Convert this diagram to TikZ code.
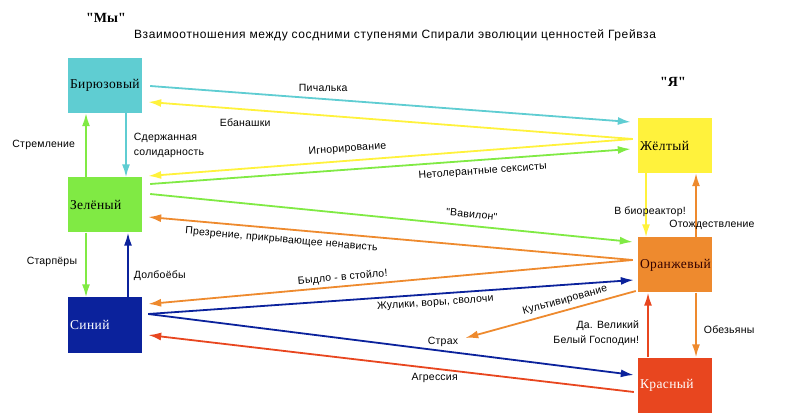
\documentclass[tikz,border=0pt]{standalone}
\usepackage{fontspec}
\setmainfont{Liberation Serif}
\newfontfamily\labelfont{Liberation Sans}[LetterSpace=2]
\newfontfamily\titlefont{Liberation Sans}[LetterSpace=5]
\newfontfamily\boxfont{Liberation Serif}[LetterSpace=3]
\newfontfamily\sidefont{Liberation Serif}
\usetikzlibrary{arrows.meta,calc}
\tikzset{>={Latex[length=13pt,width=8pt]}}
\definecolor{turq}{HTML}{5FCDD2}
\definecolor{grn}{HTML}{80EA44}
\definecolor{blu}{HTML}{0B229C}
\definecolor{yel}{HTML}{FFF23C}
\definecolor{orng}{HTML}{EE8A2E}
\definecolor{rd}{HTML}{E8461F}
\tikzset{
  level/.style={minimum width=74pt,minimum height=55pt,inner sep=2pt,
                text width=70pt,align=left,font=\boxfont\fontsize{13.5}{14}\selectfont},
  lbl/.style={font=\labelfont\fontsize{10.5}{15.5}\selectfont,inner sep=0pt,text=black},
  link/.style={->,line width=1.8pt},
  side/.style={font=\sidefont\bfseries\fontsize{14}{14}\selectfont}
}

\begin{document}
\begin{tikzpicture}[x=1pt,y=1pt]
  \useasboundingbox (0,0) rectangle (800,-419);
  % titles
  \node[side] (we) at (106,-18) {"Мы"};
  \node[side] (me) at (673,-82) {"Я"};
  \node[font=\titlefont\fontsize{12}{12}\selectfont,inner sep=0pt] (title) at (395,-35) {Взаимоотношения между сосдними ступенями Спирали эволюции ценностей Грейвза};
  % levels
  \node[level,fill=turq] (bir) at (105,-85.5) {Бирюзовый};
  \node[level,fill=grn] (zel) at (105,-205) {Зелёный};
  \node[level,fill=blu,text=white] (sin) at (105,-325) {Синий};
  \node[level,fill=yel] (zhel) at (675,-145.5) {Жёлтый};
  \node[level,fill=orng,text=black!80!red] (oran) at (675,-265) {Оранжевый};
  \node[level,fill=rd,text=white] (kras) at (675,-385) {Красный};
  \node[lbl] (strakh) at (443,-342) {Страх};
  % "we" column
  \draw[link,grn] ($(zel.north)+(-19,0)$) -- node[lbl,left=10pt] (strem) {Стремление} ($(bir.south)+(-19,0)$);
  \draw[link,turq] ($(bir.south)+(21,0)$) -- node[lbl,right=7pt,align=left] (sderzh) {Сдержанная\\солидарность} ($(zel.north)+(21,0)$);
  \draw[link,grn] ($(zel.south)+(-19,0)$) -- node[lbl,pos=0.45,left=8pt] (starp) {Старпёры} ($(sin.north)+(-19,0)$);
  \draw[link,blu] ($(sin.north)+(23,0)$) -- node[lbl,pos=0.33,right=5pt] (dolb) {Долбоёбы} ($(zel.south)+(23,0)$);
  % "I" column
  \draw[link,yel] ($(zhel.south)+(-29,0)$) -- node[lbl,pos=0.6,xshift=4pt] (bio) {В биореактор!} ($(oran.north)+(-29,0)$);
  \draw[link,orng] ($(oran.north)+(21,0)$) -- node[lbl,pos=0.19,xshift=16pt] (otozh) {Отождествление} ($(zhel.south)+(21,0)$);
  \draw[link,orng] ($(oran.south)+(21,0)$) -- node[lbl,pos=0.58,right=7pt] (obez) {Обезьяны} ($(kras.north)+(21,0)$);
  \draw[link,rd] ($(kras.north)+(-27,0)$) -- node[lbl,pos=0.375,left=8pt,align=right] (gospod) {Да. Великий\\Белый Господин!} ($(oran.south)+(-27,0)$);
  % across
  \draw[link,turq] ($(bir.east)+(8,-0.5)$) -- node[lbl,pos=0.36,above=6pt] (pich) {Пичалька} ($(zhel.west)+(-7,23.5)$);
  \draw[link,yel] ($(zhel.west)+(-5,6.5)$) -- node[lbl,pos=0.8,below=9pt] (eban) {Ебанашки} ($(bir.east)+(6,-16.5)$);
  \draw[link,yel] ($(zhel.west)+(-5,6.5)$) -- node[lbl,pos=0.587,sloped,above=6pt] (ignor) {Игнорирование} ($(zel.east)+(6,29)$);
  \draw[link,grn] ($(zel.east)+(8,21)$) -- node[lbl,pos=0.69,sloped,below=6pt] (netol) {Нетолерантные сексисты} ($(zhel.west)+(-7,-3.5)$);
  \draw[link,grn] ($(zel.east)+(8,11)$) -- node[lbl,pos=0.664,sloped,above=7pt] (vavil) {"Вавилон"} ($(oran.west)+(-5,23)$);
  \draw[link,orng] ($(oran.west)+(-5,5)$) -- node[lbl,pos=0.723,sloped,below=5.5pt] (prezr) {Презрение, прикрывающее ненависть} ($(zel.east)+(6,-12)$);
  \draw[link,orng] ($(oran.west)+(-5,5)$) -- node[lbl,pos=0.597,sloped,above=3pt] (bydlo) {Быдло - в стойло!} ($(sin.east)+(6,21)$);
  \draw[link,blu] ($(sin.east)+(6,11)$) -- node[lbl,pos=0.59,sloped,below=3.5pt] (zhul) {Жулики, воры, сволочи} ($(oran.west)+(-4,-15)$);
  \draw[link,blu] ($(sin.east)+(6,11)$) -- ($(kras.west)+(-4,10)$);
  \draw[link,rd] ($(kras.west)+(-4,-7)$) -- node[lbl,pos=0.41,below=4pt] (agr) {Агрессия} ($(sin.east)+(6,-10)$);
  \draw[link,orng] ($(oran.west)+(-2,-26)$) -- node[lbl,pos=0.4,sloped,above=4pt] (kult) {Культивирование} ($(strakh.east)+(7,4)$);
\end{tikzpicture}
\end{document}
